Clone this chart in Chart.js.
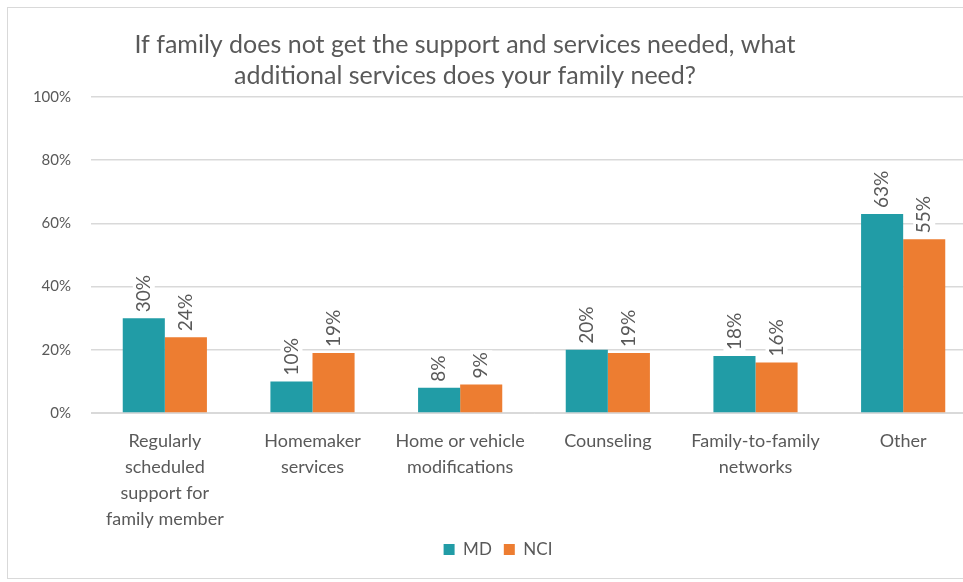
<!DOCTYPE html>
<html>
<head>
<meta charset="utf-8">
<script src="https://cdn.jsdelivr.net/npm/chart.js@4"></script>
<style>
  html, body { margin: 0; padding: 0; background: #fff; overflow: hidden; }
  #wrap { position: relative; width: 963px; height: 582px; overflow: hidden; }
  #frame { position: absolute; left: 7px; top: 7px; width: 990px; height: 570px; border: 1px solid #d9d9d9; }
  canvas { position: absolute; left: 0; top: 0; }
</style>
</head>
<body>
<div id="wrap">
  <div id="frame"></div>
  <canvas id="chart" width="980" height="582"></canvas>
</div>
<script>
// chart data
const categories = [
  ['Regularly', 'scheduled', 'support for', 'family member'],
  ['Homemaker', 'services'],
  ['Home or vehicle', 'modifications'],
  ['Counseling'],
  ['Family-to-family', 'networks'],
  ['Other']
];
const mdValues = [30, 10, 8, 20, 18, 63];
const nciValues = [24, 19, 9, 19, 16, 55];
const yTicks = [0, 20, 40, 60, 80, 100];
const titleLines = [
  'If family does not get the support and services needed, what',
  'additional services does your family need?'
];

const fontFamily = 'Lato, "Open Sans", sans-serif';
const textColor = '#595959';

// title drawn by hand so it can sit off-center like the original
const titlePlugin = {
  id: 'manualTitle',
  afterDraw(chart) {
    const c = chart.ctx;
    c.save();
    c.font = '25px ' + fontFamily;
    c.fillStyle = textColor;
    c.textAlign = 'center';
    c.textBaseline = 'middle';
    titleLines.forEach((line, i) => c.fillText(line, 465, 45 + i * 31));
    c.restore();
  }
};

// rotated value labels with a white box behind them
const valueLabels = {
  id: 'valueLabels',
  afterDatasetsDraw(chart) {
    const c = chart.ctx;
    c.save();
    c.font = '19px ' + fontFamily;
    chart.data.datasets.forEach((ds, di) => {
      chart.getDatasetMeta(di).data.forEach((bar, i) => {
        const txt = ds.data[i] + '%';
        const w = c.measureText(txt).width;
        c.save();
        c.translate(bar.x, bar.y - 6);
        c.rotate(-Math.PI / 2);
        c.fillStyle = '#fff';
        c.fillRect(-2, -11, w + 4, 22);
        c.fillStyle = textColor;
        c.textAlign = 'left';
        c.textBaseline = 'middle';
        c.fillText(txt, 0, 0);
        c.restore();
      });
    });
    c.restore();
  }
};

const ctx = document.getElementById('chart').getContext('2d');
const chart = new Chart(ctx, {
  type: 'bar',
  data: {
    labels: categories,
    datasets: [
      { label: 'MD', data: mdValues, backgroundColor: '#219ca6', borderWidth: 0 },
      { label: 'NCI', data: nciValues, backgroundColor: '#ed7d31', borderWidth: 0 }
    ]
  },
  options: {
    responsive: false,
    animation: false,
    layout: { padding: { top: 97, right: 3, left: 19, bottom: 14 } },
    datasets: { bar: { barPercentage: 1, categoryPercentage: 0.57 } },
    plugins: {
      title: { display: false },
      tooltip: { enabled: false },
      legend: {
        position: 'bottom',
        labels: {
          boxWidth: 11, boxHeight: 11, color: textColor,
          font: { family: fontFamily, size: 17 }, padding: 12
        }
      }
    },
    scales: {
      x: {
        grid: { display: false },
        border: { color: '#d9d9d9', width: 1 },
        afterFit(scale) { scale.height = 116; },
        ticks: {
          color: textColor, maxRotation: 0, autoSkip: false,
          font: { family: fontFamily, size: 18, lineHeight: 1.45 }, padding: 7
        }
      },
      y: {
        min: 0, max: 100,
        afterBuildTicks(scale) { scale.ticks = yTicks.map(v => ({ value: v })); },
        afterFit(scale) { scale.width = 72; },
        grid: { color: '#d9d9d9', lineWidth: 1.5, drawTicks: false },
        border: { display: false },
        ticks: {
          color: textColor, padding: 20,
          font: { family: fontFamily, size: 15 },
          callback: v => v + '%'
        }
      }
    }
  },
  plugins: [titlePlugin, valueLabels]
});
</script>
</body>
</html>
